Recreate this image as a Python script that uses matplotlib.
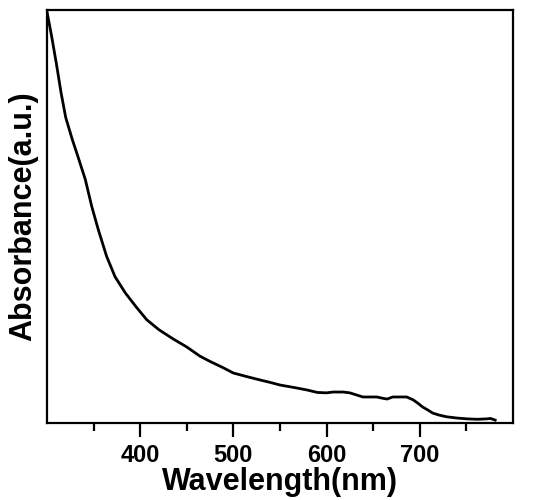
import matplotlib.pyplot as plt

# values (arbitrary units)
wavelength = [300, 305, 310, 315, 320, 327, 333, 341, 348, 355, 364, 373, 384,
              396, 407, 420, 435, 450, 464, 475, 488, 500, 515,
              529, 540, 550, 565, 579, 590, 600, 607, 618, 625, 632, 639, 647,
              654, 660, 665, 671, 680, 686, 693, 698, 703, 709, 714, 721, 729,
              740, 751, 762, 772, 776, 781]
absorb = [0.995, 0.935, 0.870, 0.800, 0.740, 0.687, 0.646, 0.590, 0.524, 0.468,
          0.403, 0.354, 0.315, 0.280, 0.250, 0.226, 0.204,
          0.184, 0.162, 0.149, 0.135, 0.121, 0.112, 0.104, 0.098, 0.092, 0.086,
          0.080, 0.074, 0.073, 0.075, 0.075, 0.073, 0.068, 0.063, 0.063, 0.063,
          0.060, 0.058, 0.063, 0.063, 0.063, 0.056, 0.048, 0.039, 0.031, 0.024,
          0.019, 0.015, 0.012, 0.010, 0.009, 0.010, 0.011, 0.007]

xticks = [400, 500, 600, 700]
xminor = [350, 450, 550, 650, 750]

plt.rcParams['font.family'] = 'Liberation Sans'
plt.rcParams['font.weight'] = 'bold'

fig = plt.figure(figsize=(5.41, 5.0), dpi=100)
ax = fig.add_axes([0.087, 0.154, 0.861, 0.826])

ax.plot(wavelength, absorb, color='black', lw=2.0)

ax.set_xlim(300, 800)
ax.set_ylim(0, 1.0)
ax.set_xticks(xticks)
ax.set_xticks(xminor, minor=True)
ax.set_yticks([])
ax.tick_params(axis='x', which='major', direction='out', length=10, width=1.6,
               labelsize=17, pad=5)
ax.tick_params(axis='x', which='minor', direction='out', length=5.5, width=1.6)
for lbl in ax.get_xticklabels():
    lbl.set_fontweight('bold')
for s in ax.spines.values():
    s.set_linewidth(1.6)

ax.set_xlabel('Wavelength(nm)', fontsize=22, fontweight='bold', labelpad=0)
ax.set_ylabel('Absorbance(a.u.)', fontsize=22, fontweight='bold', labelpad=6)

fig.savefig('out.png', dpi=100)
